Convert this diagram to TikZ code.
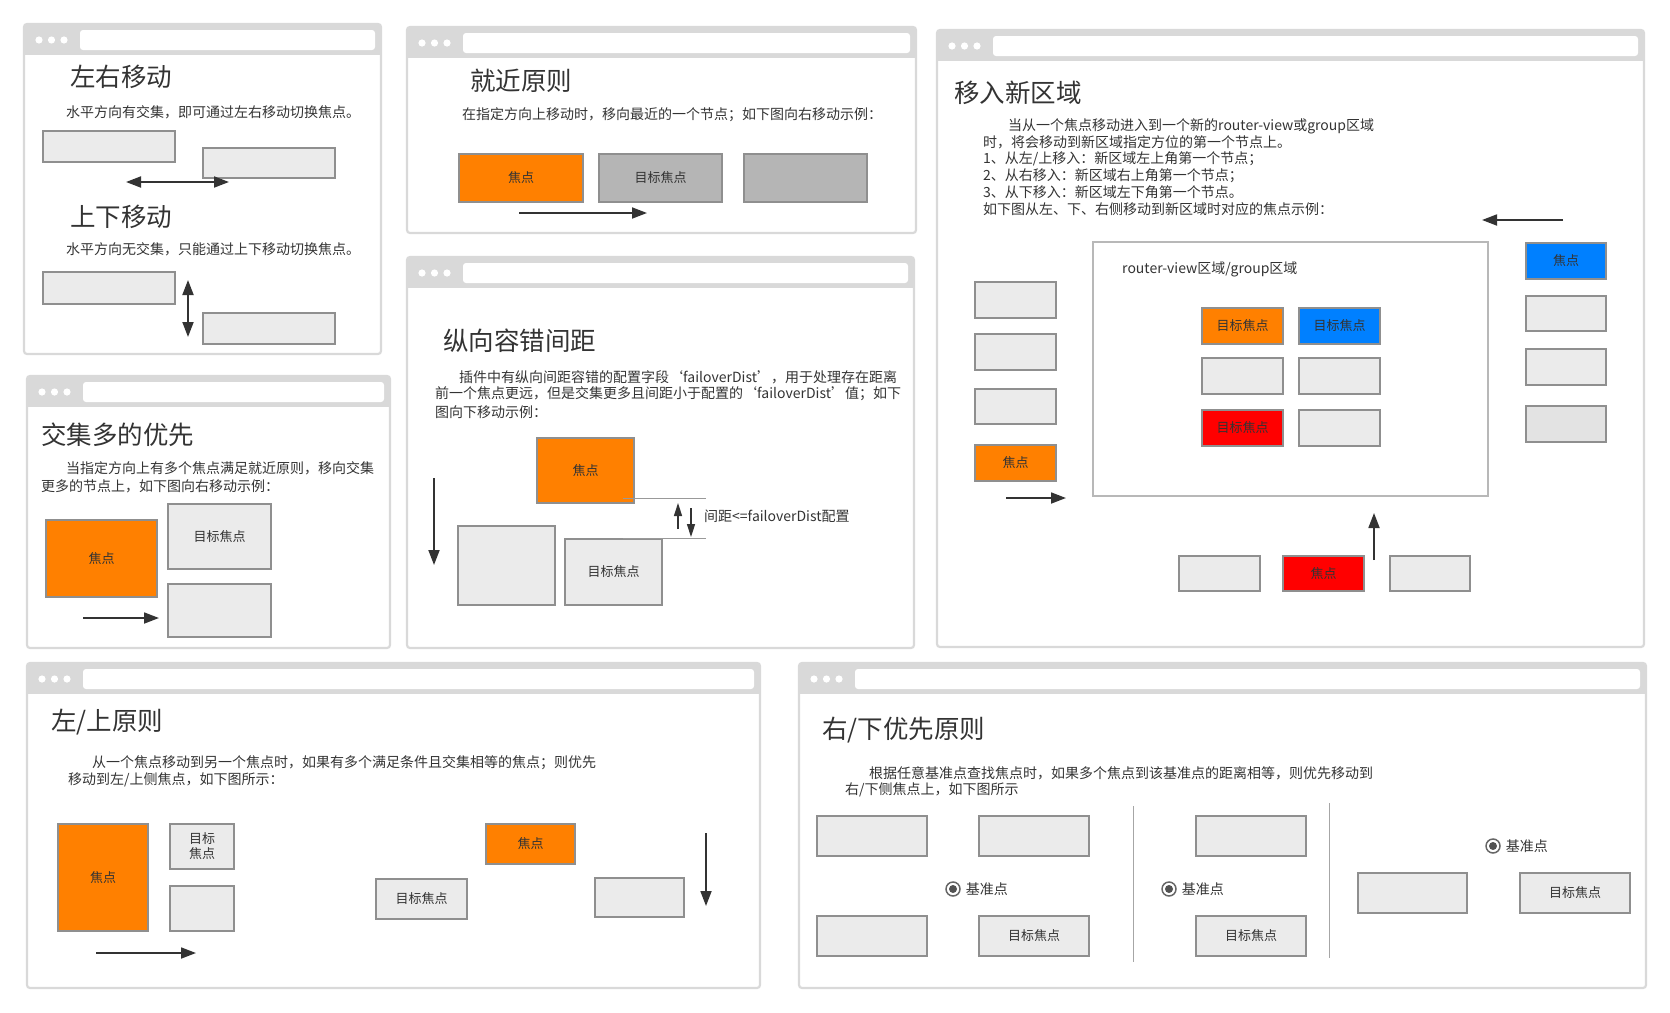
\documentclass[tikz,border=0pt]{standalone}
\usepackage{fontspec}
\setmainfont{Noto Sans CJK SC}
\usetikzlibrary{positioning, arrows.meta}

\definecolor{framegray}{HTML}{D9D9D9}
\definecolor{boxline}{HTML}{8F8F8F}
\definecolor{boxfill}{HTML}{EBEBEB}
\definecolor{darkfill}{HTML}{B5B5B5}
\definecolor{focusorange}{HTML}{FF8000}
\definecolor{focusblue}{HTML}{0080FF}
\definecolor{focusred}{HTML}{FF0000}
\definecolor{ink}{HTML}{333333}

% browser-like window: left, top, right, bottom
\newcommand{\uiwindow}[4]{%
  \fill[framegray] (#1,#2) rectangle (#3,#2+31);
  \draw[framegray, line width=2.2pt, rounded corners=3pt] (#1,#2) rectangle (#3,#4);
  \foreach \k in {0,1,2} \fill[white] (#1+15+\k*12.5,#2+16) circle (3.6pt);
  \fill[white, rounded corners=3pt] (#1+56,#2+6) rectangle (#3-6,#2+26);
}

% box from its corners: name, x1, y1, x2, y2, fill, text
\newcommand{\uicell}[7]{%
  \node[cellbox, fill=#6, minimum width=#4pt-#2pt, minimum height=#5pt-#3pt] (#1) at ({(#2+#4)/2},{(#3+#5)/2}) {#7};
}

% radio button with its label
\newcommand{\uiradio}[3]{%
  \node[radio] (#1) at (#2,#3) {};
  \fill[ink!85] (#1) circle (4pt);
  \node[body, right=5pt of #1] (#1-l) {基准点};
}

\begin{document}
\begin{tikzpicture}[
  x=1pt, y=-1pt,
  >={Triangle[length=15pt, width=11pt]},
  title/.style={anchor=west, inner sep=0, text=ink, font=\fontsize{25.5}{30}\selectfont},
  body/.style={anchor=west, inner sep=0, text=ink, font=\fontsize{14}{16}\selectfont},
  cellbox/.style={draw=boxline, line width=1.8pt, inner sep=0, outer sep=0, align=center, text=ink, font=\fontsize{13}{15}\selectfont},
  radio/.style={circle, draw=ink!75, line width=1.5pt, minimum size=14pt, inner sep=0},
  arr/.style={draw=ink, line width=1.8pt},
  sarr/.style={draw=ink, line width=1.5pt, -{Triangle[length=13pt, width=8pt]}},
  gapline/.style={draw=black!40, line width=1pt},
  region/.style={draw=black!28, line width=1.3pt},
  sepline/.style={draw=black!35, line width=1pt}
]
\useasboundingbox (0,0) rectangle (1670,1012);

% left/right and up/down
\uiwindow{24}{24}{381}{354}
\node[title] (t-lr) at (70,77) {左右移动};
\node[body] (d-lr) at (66,112) {水平方向有交集，即可通过左右移动切换焦点。};
\uicell{lr-a}{43}{131}{175}{162}{boxfill}{}
\uicell{lr-b}{203}{148}{335}{178}{boxfill}{}
\draw[arr, <->] (126,182) -- (229,182);
\node[title] (t-ud) at (70,217) {上下移动};
\node[body] (d-ud) at (66,249) {水平方向无交集，只能通过上下移动切换焦点。};
\uicell{ud-a}{43}{272}{175}{304}{boxfill}{}
\uicell{ud-b}{203}{313}{335}{344}{boxfill}{}
\draw[arr, <->] (188,280) -- (188,337);

% nearest
\uiwindow{407}{27}{916}{233}
\node[title] (t-nr) at (470,81) {就近原则};
\node[body] (d-nr) at (462,115) {在指定方向上移动时，移向最近的一个节点；如下图向右移动示例：};
\uicell{nr-f}{459}{154}{583}{202}{focusorange}{焦点}
\uicell{nr-t}{599}{154}{722}{202}{darkfill}{目标焦点}
\uicell{nr-x}{744}{154}{867}{202}{darkfill}{}
\draw[arr, ->] (519,213) -- (647,213);

% failover distance
\uiwindow{407}{257}{914}{648}
\node[title] (t-fd) at (443,341) {纵向容错间距};
\node[body] (d-fd1) at (459,377) {插件中有纵向间距容错的配置字段‘failoverDist’，用于处理存在距离};
\node[body] (d-fd2) at (435,394) {前一个焦点更远，但是交集更多且间距小于配置的‘failoverDist’值；如下};
\node[body] (d-fd3) at (435,412) {图向下移动示例：};
\uicell{fd-f}{537}{438}{634}{503}{focusorange}{焦点}
\uicell{fd-x}{458}{526}{555}{605}{boxfill}{}
\uicell{fd-t}{565}{539}{662}{605}{boxfill}{目标焦点}
\draw[gapline] (623,498) -- (706,498);
\draw[gapline] (623,538) -- (706,538);
\draw[sarr] (678,529) -- (678,503);
\draw[sarr] (691,508) -- (691,537);
\node[body] (fd-gap) at (704,516) {间距<=failoverDist配置};
\draw[arr, ->] (434,478) -- (434,565);

% new zone
\uiwindow{937}{30}{1644}{647}
\node[title] (t-nz) at (954,93) {移入新区域};
\node[body] (d-nz1) at (1008,126) {当从一个焦点移动进入到一个新的router-view或group区域};
\node[body] (d-nz2) at (983,142.6) {时，将会移动到新区域指定方位的第一个节点上。};
\node[body] (d-nz3) at (983,159.2) {1、从左/上移入：新区域左上角第一个节点；};
\node[body] (d-nz4) at (983,175.8) {2、从右移入：新区域右上角第一个节点；};
\node[body] (d-nz5) at (983,192.4) {3、从下移入：新区域左下角第一个节点。};
\node[body] (d-nz6) at (983,209) {如下图从左、下、右侧移动到新区域时对应的焦点示例：};
\draw[arr, ->] (1563,220) -- (1482,220);
\draw[region] (1093,242) rectangle (1488,496);
\node[body] (nz-label) at (1122,269) {router-view区域/group区域};
\uicell{nz-l1}{975}{282}{1056}{318}{boxfill}{}
\uicell{nz-l2}{975}{334}{1056}{370}{boxfill}{}
\uicell{nz-l3}{975}{389}{1056}{424}{boxfill}{}
\uicell{nz-l4}{975}{445}{1056}{481}{focusorange}{焦点}
\draw[arr, ->] (1006,498) -- (1066,498);
\uicell{nz-a}{1202}{308}{1283}{344}{focusorange}{目标焦点}
\uicell{nz-b}{1299}{308}{1380}{344}{focusblue}{目标焦点}
\uicell{nz-c}{1202}{358}{1283}{394}{boxfill}{}
\uicell{nz-d}{1299}{358}{1380}{394}{boxfill}{}
\uicell{nz-e}{1202}{410}{1283}{446}{focusred}{目标焦点}
\uicell{nz-f}{1299}{410}{1380}{446}{boxfill}{}
\uicell{nz-r1}{1526}{243}{1606}{279}{focusblue}{焦点}
\uicell{nz-r2}{1526}{296}{1606}{331}{boxfill}{}
\uicell{nz-r3}{1526}{349}{1606}{385}{boxfill}{}
\uicell{nz-r4}{1526}{406}{1606}{442}{black!11}{}
\uicell{nz-b1}{1179}{556}{1260}{591}{boxfill}{}
\uicell{nz-b2}{1283}{556}{1364}{591}{focusred}{焦点}
\uicell{nz-b3}{1390}{556}{1470}{591}{boxfill}{}
\draw[arr, ->] (1374,560) -- (1374,513);

% larger overlap first
\uiwindow{27}{376}{390}{648}
\node[title] (t-ov) at (41,435) {交集多的优先};
\node[body] (d-ov1) at (66,468) {当指定方向上有多个焦点满足就近原则，移向交集};
\node[body] (d-ov2) at (41,486) {更多的节点上，如下图向右移动示例：};
\uicell{ov-f}{46}{520}{157}{597}{focusorange}{焦点}
\uicell{ov-t}{168}{504}{271}{569}{boxfill}{目标焦点}
\uicell{ov-x}{168}{584}{271}{637}{boxfill}{}
\draw[arr, ->] (83,618) -- (159,618);

% left/up rule
\uiwindow{27}{663}{760}{988}
\node[title] (t-lu) at (51,722) {左/上原则};
\node[body] (d-lu1) at (92,763) {从一个焦点移动到另一个焦点时，如果有多个满足条件且交集相等的焦点；则优先};
\node[body] (d-lu2) at (68,780) {移动到左/上侧焦点，如下图所示：};
\uicell{lu-f}{58}{824}{148}{931}{focusorange}{焦点}
\uicell{lu-t}{170}{824}{234}{869}{boxfill}{目标\\焦点}
\uicell{lu-x}{170}{886}{234}{931}{boxfill}{}
\draw[arr, ->] (96,953) -- (196,953);
\uicell{lu-f2}{486}{824}{575}{864}{focusorange}{焦点}
\uicell{lu-t2}{376}{879}{467}{919}{boxfill}{目标焦点}
\uicell{lu-x2}{595}{878}{684}{917}{boxfill}{}
\draw[arr, ->] (706,833) -- (706,906);

% right/down rule
\uiwindow{799}{663}{1646}{988}
\node[title] (t-rb) at (822,730) {右/下优先原则};
\node[body] (d-rb1) at (869,773) {根据任意基准点查找焦点时，如果多个焦点到该基准点的距离相等，则优先移动到};
\node[body] (d-rb2) at (845,790) {右/下侧焦点上，如下图所示};
\draw[sepline] (1133,806) -- (1133,962);
\draw[sepline] (1329,803) -- (1329,958);
\uicell{rb-a}{817}{816}{927}{856}{boxfill}{}
\uicell{rb-b}{979}{816}{1089}{856}{boxfill}{}
\uicell{rb-c}{817}{916}{927}{956}{boxfill}{}
\uicell{rb-d}{979}{916}{1089}{956}{boxfill}{目标焦点}
\uiradio{rb-p1}{953}{889}
\uicell{rb-e}{1196}{816}{1306}{856}{boxfill}{}
\uicell{rb-f}{1196}{916}{1306}{956}{boxfill}{目标焦点}
\uiradio{rb-p2}{1169}{889}
\uiradio{rb-p3}{1493}{846}
\uicell{rb-g}{1358}{873}{1467}{913}{boxfill}{}
\uicell{rb-h}{1520}{873}{1630}{913}{boxfill}{目标焦点}
\end{tikzpicture}
\end{document}
